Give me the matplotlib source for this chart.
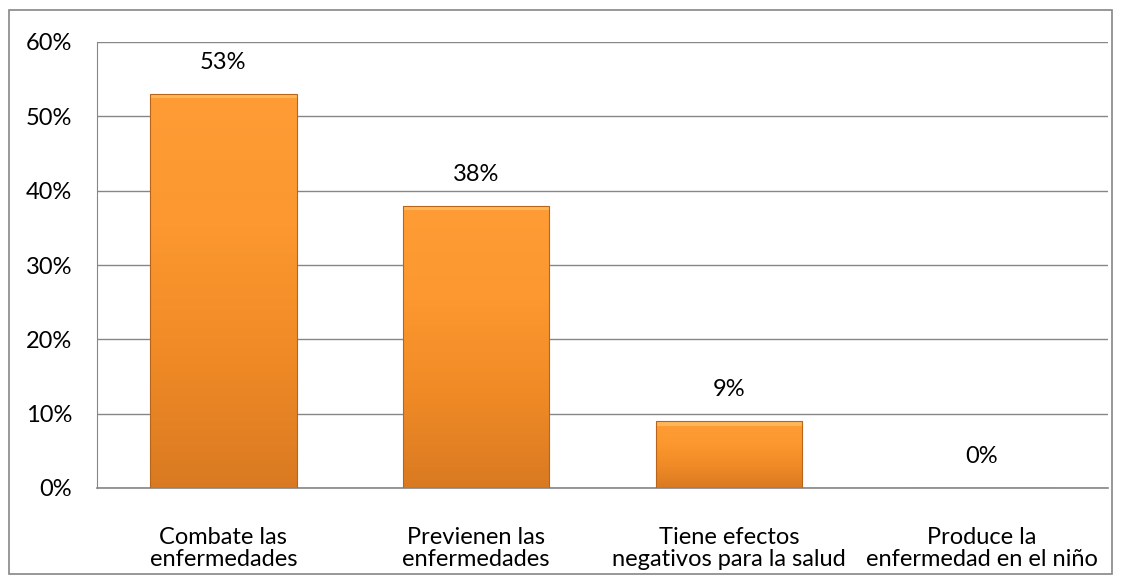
#%%############################################################################
# Bar chart of opinions (percentages) with orange gradient bars.
###############################################################################
import numpy as np
import matplotlib.pyplot as plt
from matplotlib.patches import Rectangle
from matplotlib.colors import LinearSegmentedColormap

#%%############################################################################
# Data.
###############################################################################
categories = ['Combate las\nenfermedades', 'Previenen las\nenfermedades',
              'Tiene efectos\nnegativos para la salud', 'Produce la\nenfermedad en el niño']
values = [0.53, 0.38, 0.09, 0.0]
valueLabels = ['53%', '38%', '9%', '0%']
yTicks = [0.0, 0.1, 0.2, 0.3, 0.4, 0.5, 0.6]

#%%############################################################################
# Plot.
###############################################################################
plt.rcParams['font.family'] = ['Lato', 'DejaVu Sans']
plt.rcParams['font.size'] = 17

fig = plt.figure(figsize=(11.24, 5.81), dpi=100)
ax = fig.add_axes([97 / 1124, 1 - 488 / 581, (1108 - 97) / 1124, (488 - 42) / 581])

# outer chart border
fig.patches.append(Rectangle((9 / 1124, 1 - 574 / 581), 1103 / 1124, 564 / 581,
                             transform=fig.transFigure, fill=False,
                             edgecolor='#868686', linewidth=1.2))

x = np.arange(len(categories))
barWidth = 0.58
cmap = LinearSegmentedColormap.from_list('orng', ['#D97A22', '#F08A26', '#FC982F', '#FF9C35'])
grad = np.linspace(0, 1, 256).reshape(-1, 1)

bars = ax.bar(x, values, width=barWidth, color='none', edgecolor='#B8651A',
              linewidth=0.8, zorder=3)
for b in bars:
    h = b.get_height()
    if h <= 0:
        continue
    x0 = b.get_x()
    im = ax.imshow(grad, cmap=cmap, aspect='auto', origin='lower',
                   extent=[x0, x0 + barWidth, 0, h], zorder=2)
    im.set_clip_path(b)
    # light bevel at top
    ax.add_patch(Rectangle((x0, h - 0.006), barWidth, 0.006, facecolor='#FFB65A',
                           edgecolor='none', zorder=2.5))

for xi, v, lbl in zip(x, values, valueLabels):
    ax.text(xi, v + 0.028, lbl, ha='center', va='bottom', color='#000000')

ax.set_xlim(-0.5, len(categories) - 0.5)
ax.set_ylim(0, 0.6)
ax.set_yticks(yTicks)
ax.set_yticklabels(['%d%%' % round(t * 100) for t in yTicks])
ax.set_xticks(x)
ax.set_xticklabels(categories, linespacing=1.05)
ax.yaxis.grid(True, color='#868686', linewidth=1.0, zorder=0)
ax.set_axisbelow(True)
ax.tick_params(axis='both', length=0, colors='#000000')
ax.tick_params(axis='y', pad=18)
ax.tick_params(axis='x', pad=28)
for s in ['top', 'right']:
    ax.spines[s].set_visible(False)
ax.spines['left'].set_color('#868686')
ax.spines['bottom'].set_color('#868686')
ax.spines['bottom'].set_linewidth(1.2)

fig.savefig('out.png', dpi=100)
